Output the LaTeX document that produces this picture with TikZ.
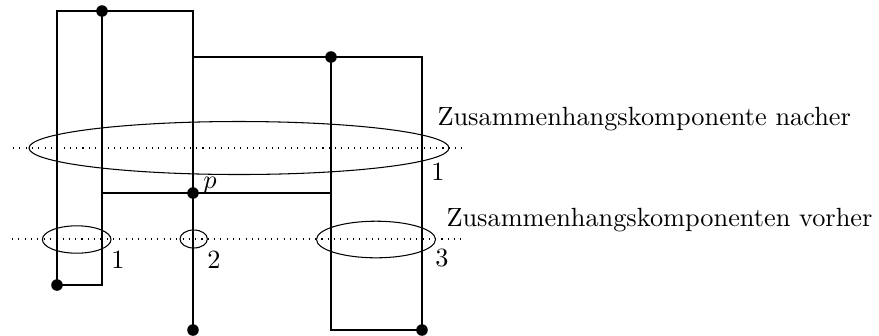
\documentclass[tikz,border=0pt]{standalone}
\begin{document}
\begin{tikzpicture}[x=0.38pt,y=-0.38pt,
  wire/.style={line width=0.8pt},
  comp/.style={line width=0.4pt},
  level/.style={line width=0.4pt,dotted},
  vtx/.style={circle,fill=black,inner sep=0pt,minimum size=4.4pt},
  lbl/.style={inner sep=0pt,font=\normalsize}]
\useasboundingbox (0,0) rectangle (879,335);
% vertices
\node[vtx] (a) at (102,11) {};
\node[vtx] (b) at (57,285) {};
\node[vtx] (p) at (193,193) {};
\node[vtx] (c) at (193,330) {};
\node[vtx] (d) at (331,57) {};
\node[vtx] (e) at (422,330) {};
% corners
\coordinate (tl) at (57,11);
\coordinate (tr) at (193,11);
\coordinate (br1) at (102,285);
\coordinate (m1) at (102,193);
\coordinate (m2) at (331,193);
\coordinate (u1) at (193,57);
\coordinate (u2) at (422,57);
\coordinate (l1) at (331,330);
% wires
\draw[wire] (a.center) -- (tl) -- (b.center) -- (br1) -- (a.center);
\draw[wire] (a.center) -- (tr) -- (c.center);
\draw[wire] (m1) -- (m2);
\draw[wire] (u1) -- (d.center) -- (u2) -- (e.center) -- (l1) -- (d.center);
% levels
\coordinate (h1s) at (13,148);
\coordinate (h1e) at (466,148);
\coordinate (h2s) at (12,239);
\coordinate (h2e) at (465,239);
\draw[level] (h1s) -- (h1e);
\draw[level] (h2s) -- (h2e);
% components
\draw[comp] (239,148) ellipse [x radius=210, y radius=26.5];
\draw[comp] (76.7,239.5) ellipse [x radius=34.3, y radius=13.7];
\draw[comp] (193.7,239) ellipse [x radius=13.7, y radius=9];
\draw[comp] (376,239.5) ellipse [x radius=59.5, y radius=18.3];
% labels
\node[lbl] (n1) at (118,259.5) {1};
\node[lbl] (n2) at (214,259.5) {2};
\node[lbl] (n3) at (442,258.5) {3};
\node[lbl] (N1) at (438,171.5) {1};
\node[lbl] (pl) at (210,185) {$p$};
\node[lbl,anchor=base west] (t1) at (437,125) {Zusammenhangskomponente nacher};
\node[lbl,anchor=base west] (t2) at (446,226.5) {Zusammenhangskomponenten vorher};
\end{tikzpicture}
\end{document}
